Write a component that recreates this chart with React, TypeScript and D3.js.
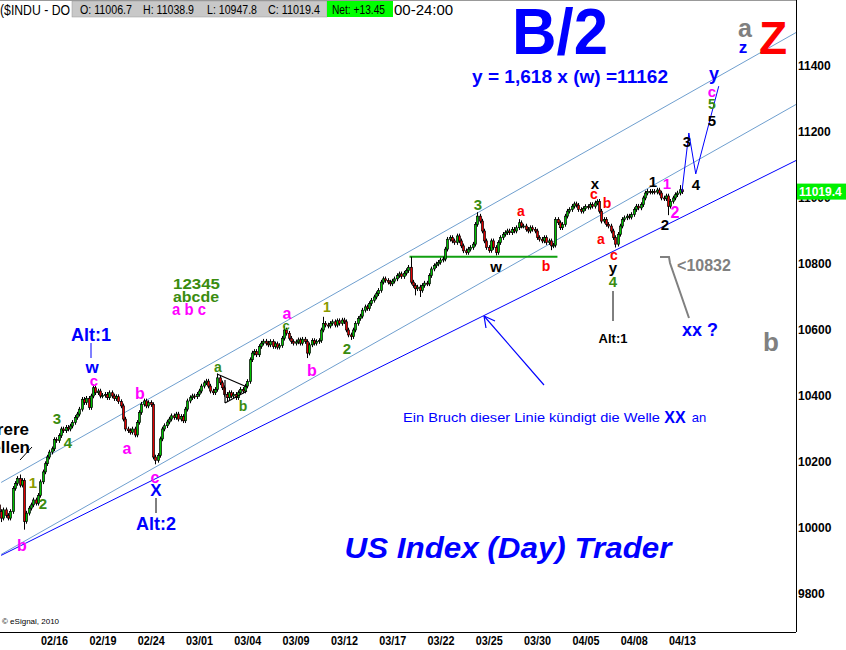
import React from "react";
import * as d3 from "d3";

// ---------- DATA ----------
const dayLabels = ["02/10","02/11","02/12","02/16","02/17","02/18","02/19","02/22","02/23","02/24","02/25","02/26","03/01","03/02","03/03","03/04","03/05","03/08","03/09","03/10","03/11","03/12","03/15","03/16","03/17","03/18","03/19","03/22","03/23","03/24","03/25","03/26","03/29","03/30","03/31","04/01","04/05","04/06","04/07","04/08","04/09","04/12","04/13"];

// hourly closes (7 bars per session)
const hourlyCloses: number[][] = [
  [10060,10045,10070,10050,10030,10055,10038],
  [10030,10050,10120,10135,10150,10130,10144],
  [10020,10045,10060,10070,10085,10075,10099],
  [10140,10170,10195,10215,10230,10240,10268],
  [10265,10280,10300,10295,10305,10300,10309],
  [10320,10335,10345,10360,10390,10380,10393],
  [10365,10400,10425,10410,10415,10400,10402],
  [10405,10395,10410,10400,10392,10398,10383],
  [10370,10330,10300,10295,10290,10300,10282],
  [10320,10350,10375,10385,10370,10380,10374],
  [10215,10205,10220,10270,10300,10310,10321],
  [10330,10340,10335,10345,10330,10338,10325],
  [10360,10385,10395,10400,10398,10405,10415],
  [10430,10440,10445,10430,10415,10410,10420],
  [10455,10440,10425,10405,10395,10410,10400],
  [10405,10395,10410,10420,10415,10430,10444],
  [10510,10530,10535,10525,10550,10560,10566],
  [10560,10555,10565,10550,10558,10548,10553],
  [10575,10600,10590,10575,10565,10560,10564],
  [10570,10560,10572,10565,10530,10555,10568],
  [10560,10565,10568,10600,10620,10615,10612],
  [10620,10625,10615,10628,10620,10630,10625],
  [10600,10585,10580,10600,10620,10635,10642],
  [10660,10670,10665,10680,10690,10700,10710],
  [10720,10745,10755,10750,10745,10740,10748],
  [10755,10765,10770,10762,10772,10780,10790],
  [10745,10735,10725,10730,10720,10735,10742],
  [10740,10765,10785,10795,10800,10805,10812],
  [10815,10845,10875,10880,10870,10865,10885],
  [10870,10855,10840,10835,10845,10850,10860],
  [10920,10945,10930,10900,10870,10850,10841],
  [10870,10850,10835,10865,10880,10890,10895],
  [10900,10895,10905,10900,10910,10925,10915],
  [10915,10905,10900,10910,10905,10900,10880],
  [10875,10870,10880,10865,10870,10855,10857],
  [10935,10925,10910,10920,10945,10960,10965],
  [10975,10982,10978,10965,10960,10968,10974],
  [10972,10980,10975,10985,10990,10960,10930],
  [10935,10920,10915,10900,10880,10860,10890],
  [10915,10935,10940,10945,10942,10950,10965],
  [10975,10970,10980,11000,11015,11020,11018],
  [11020,11018,11024,11015,11000,10998,11006],
  [10975,10990,11000,11010,11015,11025,11019],
];
const firstOpen = 10058;

// notable wick extremes
const wickExtremes = [
  { day: "02/10", bar: 4, low: 10018 },
  { day: "02/11", bar: 5, high: 10162 },
  { day: "02/12", bar: 0, low: 9995 },
  { day: "02/19", bar: 2, high: 10435 },
  { day: "02/23", bar: 6, low: 10275 },
  { day: "02/24", bar: 3, high: 10392 },
  { day: "02/25", bar: 1, low: 10193 },
  { day: "03/03", bar: 0, high: 10468 },
  { day: "03/03", bar: 4, low: 10382 },
  { day: "03/09", bar: 1, high: 10612 },
  { day: "03/10", bar: 4, low: 10515 },
  { day: "03/11", bar: 4, high: 10640 },
  { day: "03/15", bar: 2, low: 10570 },
  { day: "03/19", bar: 0, high: 10822 },
  { day: "03/19", bar: 2, low: 10705 },
  { day: "03/19", bar: 4, low: 10700 },
  { day: "03/25", bar: 1, high: 10957 },
  { day: "03/26", bar: 2, low: 10826 },
  { day: "03/29", bar: 5, high: 10936 },
  { day: "03/31", bar: 5, low: 10842 },
  { day: "04/06", bar: 4, high: 10996 },
  { day: "04/07", bar: 5, low: 10850 },
  { day: "04/13", bar: 0, low: 10948 },
  { day: "04/13", bar: 5, high: 11039 },
];

const tickDays = ["02/16","02/19","02/24","03/01","03/04","03/09","03/12","03/17","03/22","03/25","03/30","04/05","04/08","04/13"];
const priceTicks = [9800, 10000, 10200, 10400, 10600, 10800, 11000, 11200, 11400];

// projected path (bars after last bar, price)
const projection = [
  { ahead: 0, price: 11019 },
  { ahead: 3, price: 11197 },
  { ahead: 6, price: 11073 },
  { ahead: 16, price: 11339 },
];

// channel lines: [barIndex, price] anchors
const lowerChannel = [{ bar: 4, price: 9917 }, { bar: 350, price: 11115 }];
const midChannel = [{ bar: 4, price: 9920 }, { bar: 350, price: 11285 }];
const upperChannel = [{ bar: 4, price: 10138 }, { bar: 350, price: 11503 }];
const greenLevel = { from: "03/19", to: "04/01", price: 10822 };

const OHLC = { o: "11006.7", h: "11038.9", l: "10947.8", c: "11019.4", net: "+13.45", last: "11019.4" };

// ---------- LAYOUT ----------
const W = 846, H = 650;
const PLOT_R = 796, PLOT_B = 632;
const BPD = 7;
const BW = 2.3;
const X0 = -9.2;
const WICK = 7;

const FONT = "Arial, 'Liberation Sans', sans-serif";

function Lbl({ x, y, t, c, s = 15, w = "bold", anchor = "middle", italic = false, len }: any) {
  return (
    <text x={x} y={y} fill={c} fontSize={s} fontWeight={w} fontFamily={FONT}
      textAnchor={anchor} dominantBaseline="central" fontStyle={italic ? "italic" : "normal"}
      {...(len ? { textLength: len, lengthAdjust: "spacingAndGlyphs" } : {})}>{t}</text>
  );
}

export default function App() {
  const N = dayLabels.length * BPD;
  const x = d3.scaleLinear().domain([0, N]).range([X0, X0 + N * BW]);
  const y = d3.scaleLinear().domain([9800, 11400]).range([594, 66]);
  const bx = (i: number) => x(i + 0.5);

  // build candles
  const candles: any[] = [];
  let prev = firstOpen;
  hourlyCloses.forEach((day, d) => {
    day.forEach((c, j) => {
      const o = prev;
      let hi = Math.max(o, c) + WICK;
      let lo = Math.min(o, c) - WICK;
      wickExtremes.forEach((e: any) => {
        if (e.day === dayLabels[d] && e.bar === j) {
          if (e.high) hi = e.high;
          if (e.low) lo = e.low;
        }
      });
      candles.push({ i: d * BPD + j, o, c, hi, lo });
      prev = c;
    });
  });

  const lastIdx = N - 1;
  const lineFn = d3.line<any>().x((p) => p[0]).y((p) => p[1]);
  const chan = (a: any[]) => lineFn(a.map((p) => [bx(p.bar), y(p.price)]));
  const projPath = lineFn(projection.map((p) => [bx(lastIdx + p.ahead), y(p.price)]));
  const gFrom = dayLabels.indexOf(greenLevel.from) * BPD;
  const gTo = dayLabels.indexOf(greenLevel.to) * BPD;

  const green = "#3a8c10";
  const mag = "#ff00ff";
  const red = "#ff0000";
  const blue = "#0000ff";
  const gray = "#808080";

  return (
    <svg width={W} height={H} style={{ position: "absolute", left: 0, top: 0, background: "#fff" }}>
      <defs>
        <clipPath id="plot"><rect x={0} y={0} width={PLOT_R} height={PLOT_B} /></clipPath>
      </defs>
      <rect x={0} y={0} width={W} height={H} fill="#fff" />

      <g clipPath="url(#plot)">
        {/* channel lines */}
        <path d={chan(upperChannel) || ""} stroke="#6f9fcf" strokeWidth={1} fill="none" />
        <path d={chan(midChannel) || ""} stroke="#6f9fcf" strokeWidth={1} fill="none" />
        <path d={chan(lowerChannel) || ""} stroke={blue} strokeWidth={1} fill="none" />
        {/* green horizontal */}
        <line x1={bx(gFrom) - 1} x2={bx(gTo) + 2} y1={y(greenLevel.price)} y2={y(greenLevel.price)} stroke="#10a010" strokeWidth={2} />

        {/* candles */}
        {candles.map((k) => {
          const cx = Math.round(bx(k.i)) + 0.5;
          const top = y(Math.max(k.o, k.c));
          const bot = y(Math.min(k.o, k.c));
          const up = k.c >= k.o;
          return (
            <g key={k.i}>
              <line x1={cx} x2={cx} y1={y(k.hi)} y2={y(k.lo)} stroke="#000" strokeWidth={1} />
              <rect x={cx - 1} y={top} width={2} height={Math.max(1, bot - top)} fill={up ? "#00c000" : "#e00000"} stroke="#000" strokeWidth={0.7} />
            </g>
          );
        })}

        {/* projection */}
        <path d={projPath || ""} stroke={blue} strokeWidth={1} fill="none" />

        {/* triangle */}
        <path d="M217,374 L247,387 M225,403 L247,391 M225,380 L225,403" stroke="#000" strokeWidth={1.2} fill="none" />

        {/* marker lines */}
        <line x1={91} x2={91} y1={343} y2={358} stroke={blue} strokeWidth={1} />
        <line x1={156} x2={156} y1={498} y2={513} stroke="#000" strokeWidth={1} />
        <line x1={613} x2={613} y1={291} y2={321} stroke="#000" strokeWidth={1} />
        <line x1={20} x2={32} y1={460} y2={447} stroke="#000" strokeWidth={1} />
        <path d="M660,257 L669,257 L670,263 L689,318" stroke={gray} strokeWidth={2} fill="none" />

        {/* arrow */}
        <line x1={544} x2={484} y1={385} y2={316} stroke={blue} strokeWidth={1.2} />
        <path d="M484,316 L486,328 M484,316 L495,321" stroke={blue} strokeWidth={1.2} fill="none" />
      </g>

      {/* frame */}
      <line x1={0} x2={PLOT_R} y1={0.5} y2={0.5} stroke="#999" strokeWidth={1} />
      <line x1={PLOT_R + 0.5} x2={PLOT_R + 0.5} y1={0} y2={PLOT_B} stroke="#000" strokeWidth={1} />
      <line x1={0} x2={PLOT_R} y1={PLOT_B + 0.5} y2={PLOT_B + 0.5} stroke="#000" strokeWidth={1} />

      {/* price axis */}
      {priceTicks.map((p) => (
        <text key={p} x={798} y={y(p)} fontSize={12} fontWeight="bold" fontFamily={FONT} dominantBaseline="central" fill="#000">{p}</text>
      ))}
      <rect x={797} y={y(+OHLC.last) - 8} width={49} height={16} fill="#00f000" />
      <text x={799} y={y(+OHLC.last)} fontSize={12} fontWeight="bold" fontFamily={FONT} dominantBaseline="central" fill="#fff">{OHLC.last}</text>

      {/* date axis */}
      {tickDays.map((dd) => {
        const i = dayLabels.indexOf(dd) * BPD;
        return (
          <text key={dd} x={x(i) + 15.5} y={641} fontSize={12} fontWeight="bold" fontFamily="'Liberation Sans Narrow', 'Arial Narrow', Arial, sans-serif"
            textAnchor="middle" dominantBaseline="central" fill="#000" textLength={27} lengthAdjust="spacingAndGlyphs">{dd}</text>
        );
      })}
      <text x={2} y={621} fontSize={8} fontFamily={FONT} dominantBaseline="central" fill="#000">© eSignal, 2010</text>

      {/* header */}
      <text x={0} y={9} fontSize={15} fontFamily={FONT} dominantBaseline="central" fill="#000" textLength={70} lengthAdjust="spacingAndGlyphs">($INDU - DO</text>
      <text x={394} y={9} fontSize={15} fontFamily={FONT} dominantBaseline="central" fill="#000">00-24:00</text>
      <rect x={72} y={1} width={255} height={16} fill="#c8c8c8" stroke="#999" strokeWidth={0.5} />
      <rect x={327} y={1} width={66} height={16} fill="#00ff00" />
      <text x={80} y={9} fontSize={13} fontFamily={FONT} dominantBaseline="central" fill="#000" textLength={52} lengthAdjust="spacingAndGlyphs">O: {OHLC.o}</text>
      <text x={143} y={9} fontSize={13} fontFamily={FONT} dominantBaseline="central" fill="#000" textLength={51} lengthAdjust="spacingAndGlyphs">H: {OHLC.h}</text>
      <text x={207} y={9} fontSize={13} fontFamily={FONT} dominantBaseline="central" fill="#000" textLength={50} lengthAdjust="spacingAndGlyphs">L: {OHLC.l}</text>
      <text x={268} y={9} fontSize={13} fontFamily={FONT} dominantBaseline="central" fill="#000" textLength={52} lengthAdjust="spacingAndGlyphs">C: {OHLC.c}</text>
      <text x={332} y={9} fontSize={13} fontFamily={FONT} dominantBaseline="central" fill="#000" textLength={53} lengthAdjust="spacingAndGlyphs">Net: {OHLC.net}</text>

      {/* titles */}
      <Lbl x={560} y={32} t="B/2" c={blue} s={64} len={96} />
      <Lbl x={570} y={76} t="y = 1,618 x (w) =11162" c={blue} s={19} len={196} />
      <Lbl x={745} y={28} t="a" c={gray} s={25} />
      <Lbl x={743} y={47} t="z" c={blue} s={17} />
      <Lbl x={773} y={38} t="Z" c={red} s={46} />
      <Lbl x={508} y={548} t="US Index (Day) Trader" c={blue} s={29} italic len={327} />
      <Lbl x={403} y={417} t="Ein Bruch dieser Linie kündigt die Welle" c={blue} s={13} w="normal" anchor="start" len={257} />
      <Lbl x={675} y={417} t="XX" c={blue} s={16} />
      <Lbl x={699} y={417} t="an" c={blue} s={13} w="normal" />

      {/* wave labels – right */}
      <Lbl x={714} y={74} t="y" c={blue} s={18} />
      <Lbl x={712} y={91} t="c" c={mag} s={15} />
      <Lbl x={712} y={104} t="5" c={green} s={14} />
      <Lbl x={712} y={120} t="5" c="#000" s={15} />
      <Lbl x={687} y={141} t="3" c="#000" s={15} />
      <Lbl x={696} y={184} t="4" c="#000" s={15} />
      <Lbl x={653} y={181} t="1" c="#000" s={15} />
      <Lbl x={667} y={183} t="1" c={mag} s={15} />
      <Lbl x={675} y={212} t="2" c={mag} s={16} />
      <Lbl x={665} y={224} t="2" c="#000" s={15} />
      <Lbl x={595} y={183} t="x" c="#000" s={15} />
      <Lbl x={594} y={194} t="c" c={red} s={14} />
      <Lbl x={607} y={203} t="b" c={red} s={14} />
      <Lbl x={601} y={239} t="a" c={red} s={14} />
      <Lbl x={614} y={255} t="c" c={red} s={14} />
      <Lbl x={613} y={267} t="y" c="#000" s={15} />
      <Lbl x={613} y={281} t="4" c={green} s={15} />
      <Lbl x={613} y={338} t="Alt:1" c="#000" s={13} />
      <Lbl x={704} y={265} t="<10832" c={gray} s={16} />
      <Lbl x={700} y={330} t="xx ?" c={blue} s={18} />
      <Lbl x={771} y={342} t="b" c={gray} s={26} />

      {/* wave labels – middle */}
      <Lbl x={478} y={204} t="3" c={green} s={15} />
      <Lbl x={521} y={211} t="a" c={red} s={14} />
      <Lbl x={496} y={266} t="w" c="#000" s={15} />
      <Lbl x={546} y={266} t="b" c={red} s={14} />
      <Lbl x={327} y={307} t="1" c="#8a9a00" s={14} />
      <Lbl x={347} y={348} t="2" c={green} s={15} />
      <Lbl x={287} y={313} t="a" c={mag} s={16} />
      <Lbl x={286} y={325} t="c" c={green} s={13} />
      <Lbl x={312} y={370} t="b" c={mag} s={16} />
      <Lbl x={218} y={367} t="a" c={green} s={14} />
      <Lbl x={243} y={406} t="b" c={green} s={14} />
      <Lbl x={173} y={284} t="12345" c={green} s={14} anchor="start" len={47} />
      <Lbl x={173} y={297} t="abcde" c={green} s={14} anchor="start" len={46} />
      <Lbl x={172} y={309} t="a b c" c={mag} s={17} anchor="start" len={34} />

      {/* wave labels – left */}
      <Lbl x={91} y={335} t="Alt:1" c={blue} s={18} />
      <Lbl x={92} y={367} t="w" c={blue} s={17} />
      <Lbl x={94} y={380} t="c" c={mag} s={15} />
      <Lbl x={57} y={418} t="3" c={green} s={15} />
      <Lbl x={68} y={442} t="4" c={green} s={15} />
      <Lbl x={33} y={482} t="1" c="#8a9a00" s={15} />
      <Lbl x={43} y={503} t="2" c={green} s={15} />
      <Lbl x={22} y={545} t="b" c={mag} s={16} />
      <Lbl x={29} y={429} t="rere" c="#000" s={17} anchor="end" />
      <Lbl x={30} y={447} t="ellen" c="#000" s={17} anchor="end" />
      <Lbl x={127} y={448} t="a" c={mag} s={16} />
      <Lbl x={140} y={393} t="b" c={mag} s={16} />
      <Lbl x={155} y={477} t="c" c={mag} s={16} />
      <Lbl x={156} y={490} t="X" c={blue} s={17} />
      <Lbl x={156} y={524} t="Alt:2" c={blue} s={18} />
    </svg>
  );
}
